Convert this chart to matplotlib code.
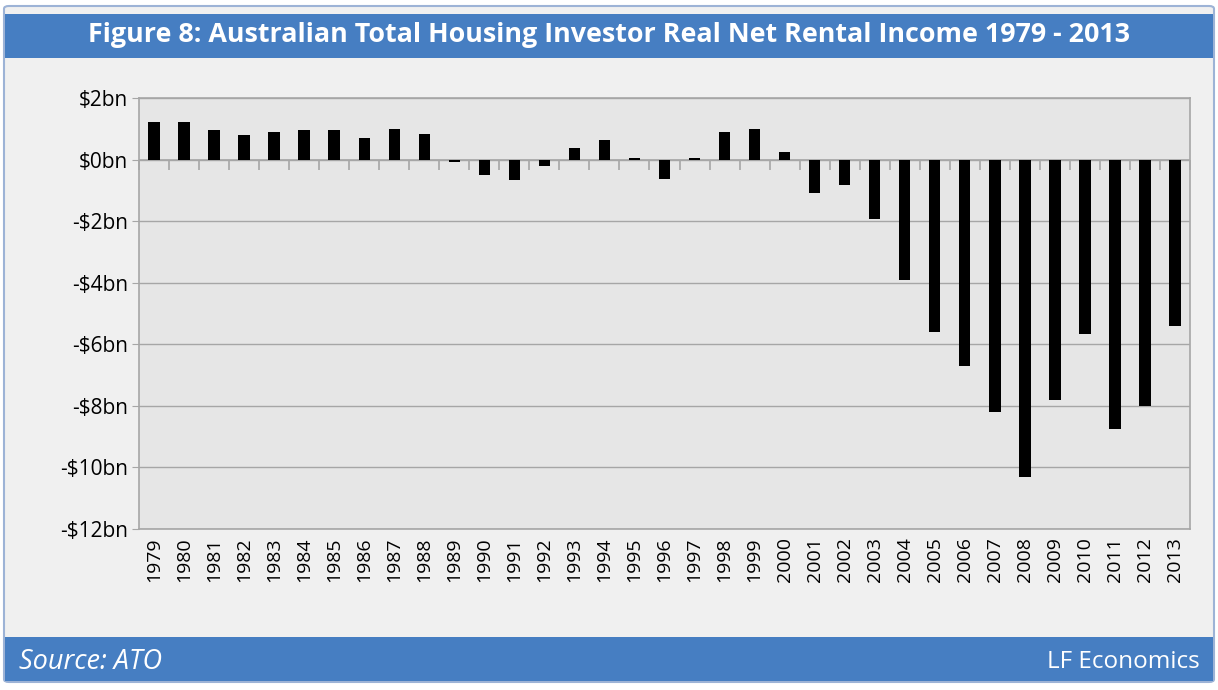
import matplotlib
matplotlib.use("Agg")
import matplotlib.pyplot as plt
from matplotlib.patches import Rectangle, FancyBboxPatch
import numpy as np

# ==========================
# DATA
# ==========================

years = [str(y) for y in range(1979, 2014)]

income_bn = [
    1.22, 1.22, 0.96, 0.80, 0.89, 0.96, 0.96, 0.71, 1.00, 0.84,
    -0.07, -0.50, -0.66, -0.20, 0.38, 0.64, 0.05, -0.62, 0.05, 0.89,
    1.00, 0.23, -1.08, -0.82, -1.92, -3.90, -5.60, -6.70, -8.20, -10.31,
    -7.81, -5.66, -8.74, -8.02, -5.40,
]

y_ticks = [2, 0, -2, -4, -6, -8, -10, -12]
y_labels = ["$2bn", "$0bn", "-$2bn", "-$4bn", "-$6bn", "-$8bn", "-$10bn", "-$12bn"]

title = "Figure 8: Australian Total Housing Investor Real Net Rental Income 1979 - 2013"
source = "Source: ATO"
credit = "LF Economics"

# ==========================
# STYLE
# ==========================

blue = "#467EC2"
panel = "#F0F0F0"
plot_bg = "#E6E6E6"
grid_c = "#A6A6A6"
font = ["Open Sans", "DejaVu Sans"]

W, H = 1218, 690
fig = plt.figure(figsize=(W / 100, H / 100), dpi=100)
fig.patch.set_facecolor("white")

# outer frame + blue bands (behind the axes)
fig.patches.append(FancyBboxPatch(
    (4 / W, 8 / H), 1210 / W, 676 / H,
    boxstyle="round,pad=0,rounding_size=0.004",
    transform=fig.transFigure, facecolor=panel,
    edgecolor="#9DB3D6", linewidth=1.5, zorder=-2))
fig.patches.append(Rectangle(
    (5 / W, 1 - 58 / H), 1208 / W, 44 / H,
    transform=fig.transFigure, facecolor=blue, edgecolor="none", zorder=-1))
fig.patches.append(Rectangle(
    (5 / W, 9 / H), 1208 / W, 44 / H,
    transform=fig.transFigure, facecolor=blue, edgecolor="none", zorder=-1))

fig.text(609 / W, 1 - 35 / H, title, color="white", fontsize=19.4,
         fontweight="bold", ha="center", va="center", family=font)
fig.text(19 / W, 1 - 662 / H, source, color="white", fontsize=19.5,
         style="italic", ha="left", va="center", family=font)
fig.text(1200 / W, 1 - 662 / H, credit, color="white", fontsize=17.5,
         ha="right", va="center", family=font)

# ==========================
# CHART
# ==========================

left, right, top, bottom = 139, 1190, 98, 529
ax = fig.add_axes([left / W, 1 - bottom / H, (right - left) / W, (bottom - top) / H])
ax.set_facecolor(plot_bg)

x = np.arange(len(years))
ax.bar(x, income_bn, width=0.38, color="black", zorder=3)

ax.set_xlim(-0.5, len(years) - 0.5)
ax.set_ylim(-12, 2)
ax.set_yticks(y_ticks)
ax.set_yticklabels(y_labels, fontsize=15, family=font)
ax.yaxis.grid(True, color=grid_c, linewidth=1, zorder=1)
ax.set_axisbelow(True)
ax.tick_params(axis="y", length=5, color=grid_c, pad=3)

ax.set_xticks(x)
ax.set_xticklabels(years, rotation=90, fontsize=14, family=font)
ax.tick_params(axis="x", length=0, pad=6)

for s in ax.spines.values():
    s.set_color(grid_c)
    s.set_linewidth(1.2)

# zero axis with category boundary ticks pointing down
ax.axhline(0, color=grid_c, linewidth=1.2, zorder=2)
zero_frac = (0 - (-12)) / 14
sec = ax.secondary_xaxis(zero_frac)
sec.set_xticks(np.arange(-0.5, len(years) + 0.5, 1))
sec.set_xticklabels([])
sec.tick_params(axis="x", direction="in", length=7, color=grid_c, width=1.2)
sec.spines["bottom"].set_visible(False)
sec.spines["top"].set_visible(False)

fig.savefig("out.png", dpi=100, facecolor=fig.get_facecolor())
